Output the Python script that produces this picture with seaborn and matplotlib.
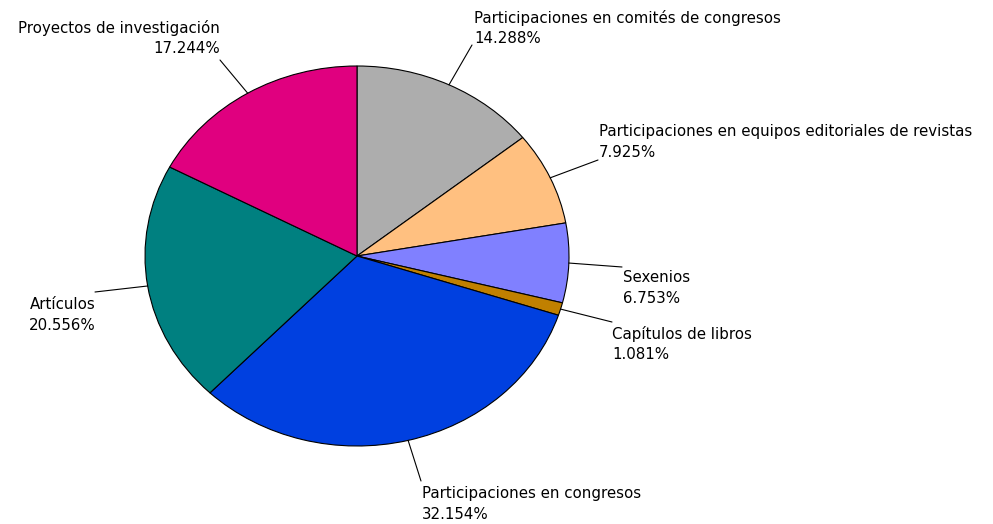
import matplotlib
matplotlib.use("Agg")
import matplotlib.pyplot as plt
import seaborn as sns
import numpy as np

categories = [
    "Participaciones en comités de congresos",
    "Participaciones en equipos editoriales de revistas",
    "Sexenios",
    "Capítulos de libros",
    "Participaciones en congresos",
    "Artículos",
    "Proyectos de investigación",
]
values = [14.288, 7.925, 6.753, 1.081, 32.154, 20.556, 17.244]
colors = ["#ADADAD", "#FFC080", "#8080FF", "#C08000", "#0040E0", "#008080", "#E0007F"]

# label layout (figure pixels from top-left): text anchor, alignment, leader end
label_pos = [
    (474, 28, "left", (472, 45)),
    (599, 142, "left", (598, 160)),
    (623, 288, "left", (622, 267)),
    (612, 344, "left", (612, 322)),
    (422, 504, "left", (421, 481)),
    (96, 315, "right", (95, 292)),
    (220, 38, "right", (220, 60)),
]

sns.set_theme(style="white")
plt.rcParams["font.family"] = ["DejaVu Sans"]

W, H = 993, 524
fig = plt.figure(figsize=(W / 100, H / 100), dpi=100)
fig.patch.set_facecolor("white")
ax = fig.add_axes([145 / W, (H - 446) / H, 424 / W, 380 / H])

wedges, _ = ax.pie(values, colors=colors, startangle=90, counterclock=False,
                   wedgeprops=dict(edgecolor="black", linewidth=0.8))
ax.set_aspect("auto")
ax.set_xlim(-1, 1)
ax.set_ylim(-1, 1)
ax.axis("off")

for w, cat, val, (tx, ty, ha, (lx, ly)) in zip(wedges, categories, values, label_pos):
    ang = np.deg2rad((w.theta1 + w.theta2) / 2)
    ex, ey = np.cos(ang), np.sin(ang)
    ax.annotate("", xy=(ex, ey), xycoords="data",
                xytext=(lx, H - ly), textcoords="figure pixels",
                arrowprops=dict(arrowstyle="-", color="black", lw=0.8,
                                shrinkA=0, shrinkB=0))
    fig.text(tx / W, (H - ty) / H, f"{cat}\n{val:.3f}%", ha=ha, va="center",
             multialignment=ha, fontsize=10.8, linespacing=1.45, color="#000000")

fig.savefig("out.png", dpi=100, facecolor="white")
